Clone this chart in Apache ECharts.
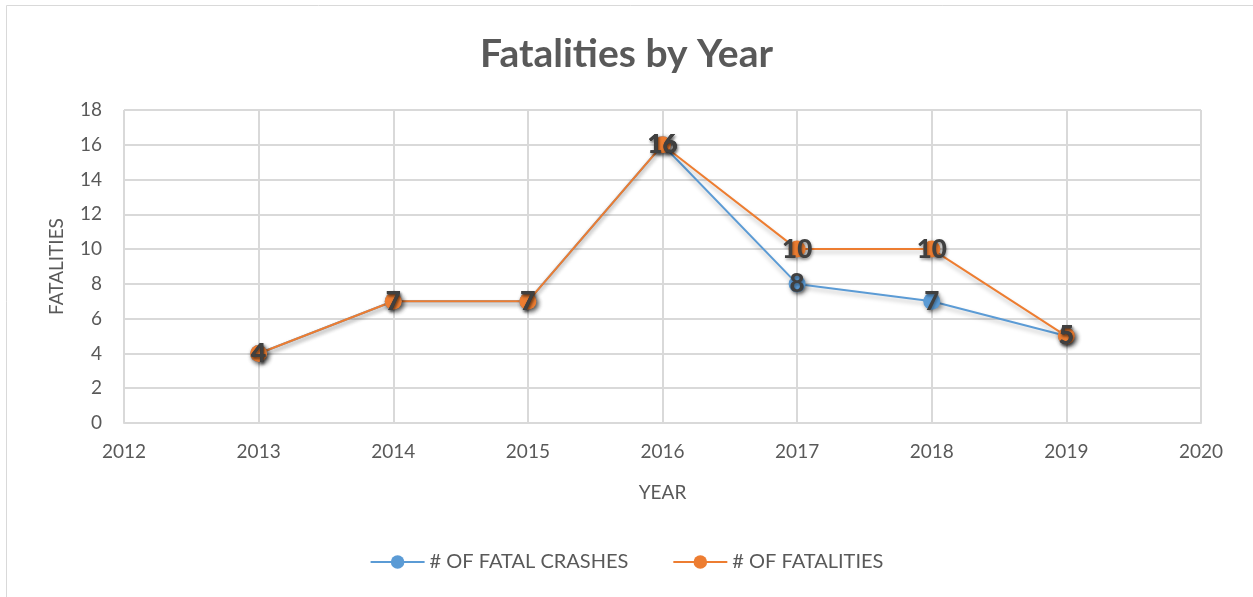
<!DOCTYPE html>
<html>
<head>
<meta charset="utf-8">
<script src="https://cdn.jsdelivr.net/npm/echarts@6/dist/echarts.min.js"></script>
<style>
  html, body { margin: 0; padding: 0; background: #fff; }
  #main { width: 1253px; height: 597px; }
</style>
</head>
<body>
<div id="main"></div>
<script>
var years = [2013, 2014, 2015, 2016, 2017, 2018, 2019];
var fatalCrashes = [4, 7, 7, 16, 8, 7, 5];
var fatalities = [4, 7, 7, 16, 10, 10, 5];
var seriesNames = ['# OF FATAL CRASHES', '# OF FATALITIES'];

function pairs(vals) {
  return years.map(function (y, i) { return [y, vals[i]]; });
}

var FONT = 'Lato, "Open Sans", sans-serif';
var GREY = '#595959';

function makeSeries(name, vals, color) {
  return {
    name: name,
    type: 'line',
    data: pairs(vals),
    symbol: 'circle',
    symbolSize: 17,
    itemStyle: {
      color: color,
      shadowColor: 'rgba(0,0,0,0.45)',
      shadowBlur: 5,
      shadowOffsetX: 2,
      shadowOffsetY: 2
    },
    lineStyle: {
      color: color,
      width: 2,
      shadowColor: 'rgba(0,0,0,0.25)',
      shadowBlur: 4,
      shadowOffsetY: 3
    },
    label: {
      show: true,
      position: 'inside',
      color: '#404040',
      fontFamily: FONT,
      fontWeight: 900,
      fontSize: 26,
      textShadowColor: 'rgba(0,0,0,0.35)',
      textShadowBlur: 3,
      textShadowOffsetX: 1,
      textShadowOffsetY: 2
    }
  };
}

var myChart = echarts.init(document.getElementById('main'));
var option = {
  animation: false,
  title: {
    text: 'Fatalities by Year',
    left: 'center',
    top: 30,
    textStyle: { fontFamily: FONT, fontSize: 39, fontWeight: 'bold', color: GREY }
  },
  graphic: [{
    type: 'rect',
    silent: true,
    shape: { x: 6.5, y: 5.5, width: 1280, height: 620 },
    style: { fill: null, stroke: '#d9d9d9', lineWidth: 1 }
  }],
  legend: {
    data: seriesNames,
    bottom: 20,
    left: 'center',
    itemWidth: 54,
    itemHeight: 17,
    itemGap: 44,
    textStyle: { fontFamily: FONT, fontSize: 20, color: GREY }
  },
  grid: { left: 124, right: 52, top: 110, bottom: 174, containLabel: false },
  xAxis: {
    type: 'value',
    min: 2012,
    max: 2020,
    interval: 1,
    name: 'YEAR',
    nameLocation: 'middle',
    nameGap: 60,
    nameTextStyle: { fontFamily: FONT, fontSize: 19, color: GREY },
    axisLine: { show: true, lineStyle: { color: '#d9d9d9', width: 2 } },
    axisTick: { show: false },
    axisLabel: { fontFamily: FONT, fontSize: 19, color: GREY, margin: 19, formatter: function (v) { return String(v); } },
    splitLine: { show: true, lineStyle: { color: '#d9d9d9', width: 2 } }
  },
  yAxis: {
    type: 'value',
    min: 0,
    max: 18,
    interval: 2,
    name: 'FATALITIES',
    nameLocation: 'middle',
    nameGap: 58,
    nameTextStyle: { fontFamily: FONT, fontSize: 19, color: GREY },
    axisLine: { show: false },
    axisTick: { show: false },
    axisLabel: { fontFamily: FONT, fontSize: 19, color: GREY, margin: 22 },
    splitLine: { show: true, lineStyle: { color: '#d9d9d9', width: 2 } }
  },
  series: [
    makeSeries(seriesNames[0], fatalCrashes, '#5B9BD5'),
    makeSeries(seriesNames[1], fatalities, '#ED7D31')
  ]
};
myChart.setOption(option);
</script>
</body>
</html>
